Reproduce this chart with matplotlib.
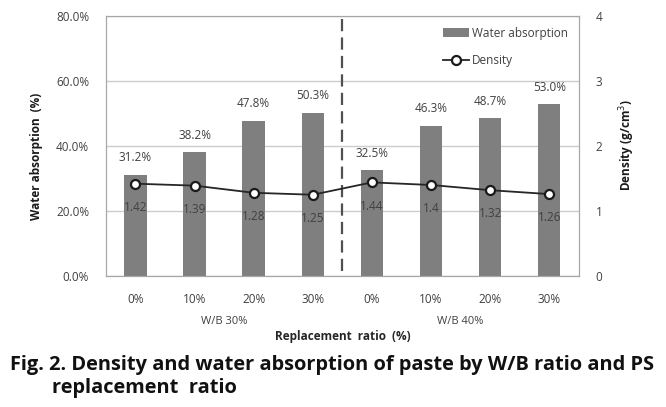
import matplotlib
matplotlib.use("Agg")
import matplotlib.pyplot as plt
from matplotlib.patches import Patch
from matplotlib.lines import Line2D
import numpy as np

plt.rcParams['font.family'] = ['Open Sans', 'DejaVu Sans']

categories = ["0%", "10%", "20%", "30%", "0%", "10%", "20%", "30%"]
groups = ["W/B 30%", "W/B 40%"]
water_absorption = [31.2, 38.2, 47.8, 50.3, 32.5, 46.3, 48.7, 53.0]
density = [1.42, 1.39, 1.28, 1.25, 1.44, 1.4, 1.32, 1.26]
left_ticks = [0, 20, 40, 60, 80]
right_ticks = [0, 1, 2, 3, 4]

txt = '#404040'
fs = 8.5
fig = plt.figure(figsize=(6.66, 4.07), dpi=100)
ax = fig.add_axes([0.159, 0.3219, 0.710, 0.6388])
ax2 = ax.twinx()

x = np.arange(len(categories))
ax.bar(x, water_absorption, width=0.38, color='#7f7f7f', zorder=2)
ax.set_ylim(0, 80)
ax.set_xlim(-0.5, len(categories) - 0.5)
ax.set_yticks(left_ticks)
ax.set_yticklabels([f"{t:.1f}%" for t in left_ticks], fontsize=fs, color=txt)
ax.set_xticks(x)
ax.set_xticklabels(categories, fontsize=fs, color=txt)
ax.tick_params(axis='both', length=0, pad=12)
ax.grid(axis='y', color='#cccccc', linewidth=1, zorder=0)
ax.set_axisbelow(True)
for s in ax.spines.values():
    s.set_color('#a6a6a6')
for s in ax2.spines.values():
    s.set_color('#a6a6a6')

for xi, v in zip(x, water_absorption):
    ax.annotate(f"{v:.1f}%", (xi, v), xytext=(0, 12), textcoords='offset points',
                ha='center', va='center', fontsize=fs, color=txt)

ax2.plot(x, density, color='#262626', linewidth=1.3, marker='o', markersize=6.5,
         markerfacecolor='white', markeredgecolor='#1a1a1a', markeredgewidth=1.6, zorder=3)
ax2.set_ylim(0, 4)
ax2.set_yticks(right_ticks)
ax2.set_yticklabels([str(t) for t in right_ticks], fontsize=fs, color=txt)
ax2.tick_params(axis='y', length=0, pad=12)
for xi, v in zip(x, density):
    ax2.annotate(f"{v:g}", (xi, v), xytext=(0, -17), textcoords='offset points',
                 ha='center', va='center', fontsize=fs, color=txt)

ax2.axvline(3.5, ymin=0.02, ymax=0.99, color='#505050', linewidth=1.6,
            linestyle=(0, (5.5, 2.8)))

ax.set_ylabel("Water absorption  (%)", fontsize=fs, fontweight='bold', color='#1a1a1a')
ax.yaxis.set_label_coords(-0.134, 0.46)
ax2.set_ylabel("Density (g/cm$^3$)", fontsize=fs, fontweight='bold', color='#1a1a1a')
ax2.yaxis.set_label_coords(1.081, 0.505)

for i, g in enumerate(groups):
    ax.text(1.5 + 4 * i, -0.175, g, transform=ax.get_xaxis_transform(),
            ha='center', va='center', fontsize=8, color=txt)
ax.text(0.5, -0.232, "Replacement  ratio  (%)", transform=ax.transAxes,
        ha='center', va='center', fontsize=fs, fontweight='bold', color='#262626')

handles = [Patch(facecolor='#7f7f7f', label='Water absorption'),
           Line2D([0], [0], color='#262626', linewidth=1.3, marker='o', markersize=6.5,
                  markerfacecolor='white', markeredgecolor='#1a1a1a', markeredgewidth=1.6,
                  label='Density')]
ax2.legend(handles=handles, loc='upper right', bbox_to_anchor=(1.0, 1.0), frameon=False,
           fontsize=fs, handlelength=2.2, handleheight=0.7, labelspacing=1.2,
           handletextpad=0.3, labelcolor=txt)

cap1 = fig.text(0.015, 1 - 365 / 407, "Fig. 2. Density and water absorption of paste by W/B ratio and PS",
                fontsize=13, fontweight='bold', ha='left', va='center', color='#111111')
cap2 = fig.text(0.078, 1 - 388 / 407, "replacement  ratio",
                fontsize=13, fontweight='bold', ha='left', va='center', color='#111111')
# fit caption line width to the reference width
fig.canvas.draw()
w = cap1.get_window_extent().width
scale = 638.0 / w
cap1.set_fontsize(13 * scale)
cap2.set_fontsize(13 * scale)

fig.savefig("out.png", dpi=100)
